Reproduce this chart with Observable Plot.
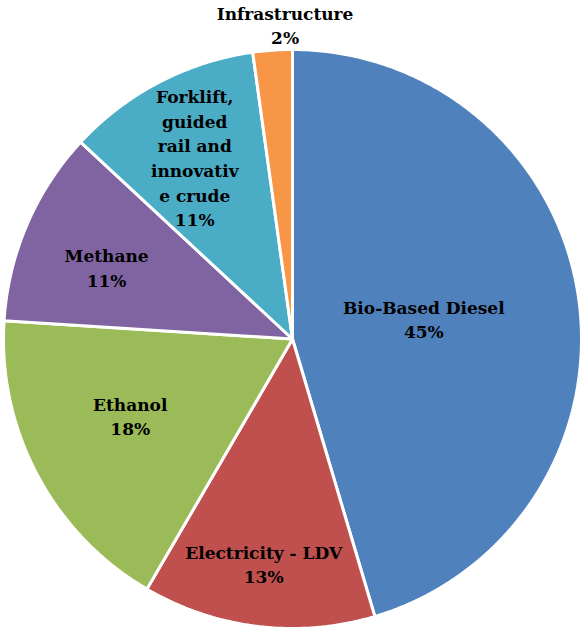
<!DOCTYPE html>
<html>
<head>
<meta charset="utf-8">
<script src="https://cdn.jsdelivr.net/npm/d3@7"></script>
<script src="https://cdn.jsdelivr.net/npm/@observablehq/plot@0.6"></script>
<style>
  html, body { margin: 0; padding: 0; background: #fff; }
  #chart svg { display: block; }
</style>
</head>
<body>
<div id="chart"></div>
<script>
// ---- data ----
const categories = ["Bio-Based Diesel", "Electricity - LDV", "Ethanol", "Methane", "Forklift, guided rail and innovative crude", "Infrastructure"];
const shares = [45.4, 13.0, 17.6, 10.9, 10.9, 2.2];
const labelNames = ["Bio-Based Diesel", "Electricity - LDV", "Ethanol", "Methane", "Forklift,\nguided\nrail and\ninnovativ\ne crude", "Infrastructure"];
const labelPercents = ["45%", "13%", "18%", "11%", "11%", "2%"];
const colors = ["#4F81BD", "#C0504D", "#9BBB59", "#8064A2", "#4BACC6", "#F79646"];

// label placement (fraction of radius, angle shift in degrees)
const labelRadius = [0.46, 0.78, 0.62, 0.69, 0.715, 1.088];
const labelShift = [-0.7, 0.5, 3, -2, -0.7, 2.6];

// ---- geometry from data ----
const pie = d3.pie().sort(null).value(d => d)(shares);
const slicePts = [];
const labels = [];
pie.forEach((p, i) => {
  const n = Math.max(4, Math.ceil((p.endAngle - p.startAngle) / 0.01));
  slicePts.push({name: categories[i], x: 0, y: 0});
  for (let k = 0; k <= n; k++) {
    const a = p.startAngle + (p.endAngle - p.startAngle) * k / n;
    slicePts.push({name: categories[i], x: Math.sin(a), y: Math.cos(a)});
  }
  slicePts.push({name: categories[i], x: 0, y: 0});
  const mid = (p.startAngle + p.endAngle) / 2 + labelShift[i] * Math.PI / 180;
  labels.push({
    text: labelNames[i] + "\n" + labelPercents[i],
    x: Math.sin(mid) * labelRadius[i],
    y: Math.cos(mid) * labelRadius[i]
  });
});

const chart = Plot.plot({
  width: 582,
  height: 629,
  marginLeft: 3,
  marginRight: 1,
  marginTop: 49,
  marginBottom: 1,
  x: {domain: [-1, 1], axis: null},
  y: {domain: [-1, 1], axis: null},
  color: {domain: categories, range: colors},
  style: {background: "#fff"},
  marks: [
    Plot.line(slicePts, {x: "x", y: "y", z: "name", fill: "name", stroke: "#fff", strokeWidth: 3, strokeLinejoin: "miter", curve: "linear"}),
    Plot.text(labels, {
      x: "x", y: "y", text: "text",
      fontFamily: "DejaVu Serif", fontWeight: "bold", fontSize: 17,
      lineHeight: 1.45, fill: "#000", textAnchor: "middle", lineAnchor: "middle"
    })
  ]
});
document.getElementById("chart").appendChild(chart);
</script>
</body>
</html>
